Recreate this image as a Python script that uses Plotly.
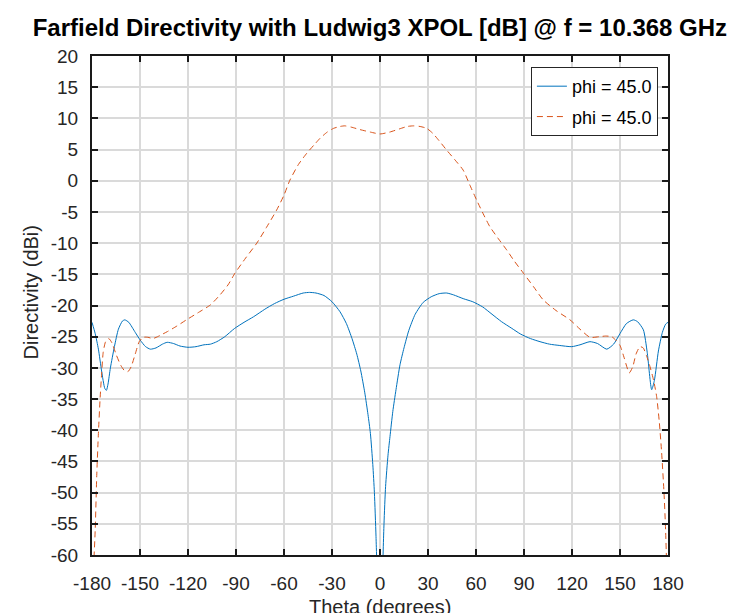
import plotly.graph_objects as go

# ---- data ----
theta_a = [-180, -178, -176, -174, -172, -171, -170, -168.5, -166, -163.5, -161, -159.5, -157,
           -153, -150, -146.5, -143.5, -140, -136, -133, -129, -125, -120, -115, -110, -106,
           -102, -97, -91, -85, -79, -72, -66, -60, -54, -48, -44, -40, -35, -30, -25, -21,
           -17.5, -14.5, -12, -9.5, -7.5, -6, -4.5, -3.5, -2.5, -1.5, -0.5,
           0.5, 1.5, 2.5, 3.5, 5, 6.25, 8, 10, 12.5, 15, 18, 22, 27, 32, 37, 41.7, 46, 52,
           58, 64, 70, 76, 82, 88, 94, 100, 106, 112, 119.8, 125, 131.25, 136, 141.7, 146,
           150, 154, 158.3, 161, 164.6, 167, 169.8, 171.5, 174, 176.5, 178.5, 180]
dir_a = [-22.7, -24.5, -27.0, -30.5, -33.3, -33.6, -32.6, -30.0, -26.6, -23.8, -22.5, -22.3, -22.7,
         -24.3, -25.5, -26.6, -27.0, -26.8, -26.2, -25.9, -26.1, -26.5, -26.7, -26.6, -26.3, -26.2,
         -25.8, -25.0, -23.7, -22.7, -21.8, -20.6, -19.7, -19.0, -18.5, -18.0, -17.9, -18.0, -18.4,
         -19.4, -21.0, -22.9, -25.3, -27.8, -30.5, -34.0, -37.5, -40.5, -45.5, -50.0, -57.0, -66.0, -80.0,
         -78.0, -64.0, -55.0, -49.0, -44.0, -41.0, -37.0, -33.5, -29.5, -26.8, -24.0, -21.4, -19.5,
         -18.6, -18.1, -18.0, -18.3, -18.9, -19.4, -20.2, -21.4, -22.6, -23.6, -24.6, -25.3, -25.8,
         -26.2, -26.4, -26.6, -26.3, -25.8, -26.1, -27.0, -26.2, -24.5, -22.9, -22.3, -22.6, -23.9,
         -27.5, -33.5, -32.0, -27.3, -24.3, -23.0, -22.7]

theta_b = [-180, -179, -178, -177, -176, -175, -174, -173, -171.5, -169.5, -167.5, -165, -162,
           -159.5, -157.5, -155.5, -153, -150.5, -148, -145, -142, -139, -136, -133, -127, -121,
           -114, -106, -100, -95, -90.6, -84, -77, -71, -64.6, -60, -56.3, -51, -45.8, -41,
           -37.5, -33, -29, -25, -22, -18, -12.5, -6, 0,
           6, 12, 17, 21, 25, 29.2, 33, 37, 41.7, 47, 52, 56, 60.4, 64.5, 68.75, 74, 79.2, 84,
           89.6, 96, 102, 110, 118.75, 125, 131.25, 137, 141, 144.8, 147.5, 150, 152.5, 155.8,
           158, 160, 162.5, 164.5, 166.5, 168.75, 171, 172.9, 174.5, 176, 177.5, 178.5, 180]
dir_b = [-70.0, -62.0, -56.0, -47.0, -40.5, -35.2, -31.0, -27.5, -25.8, -25.3, -26.0, -27.8, -29.6,
         -30.5, -30.6, -29.8, -27.8, -25.8, -25.1, -25.1, -25.3, -25.0, -24.6, -24.2, -23.3, -22.3,
         -21.2, -19.9, -18.3, -16.7, -14.8, -12.4, -10.0, -7.5, -4.7, -2.3, 0.1, 2.6, 4.4, 5.8,
         6.8, 7.8, 8.4, 8.7, 8.8, 8.6, 8.2, 7.8, 7.5,
         7.8, 8.3, 8.7, 8.8, 8.7, 8.4, 7.6, 6.4, 4.9, 3.3, 1.7, -0.6, -3.1, -5.3, -7.4, -9.3,
         -11.1, -12.9, -14.8, -17.0, -19.1, -20.8, -22.3, -23.8, -25.1, -25.0, -24.9, -25.0, -25.6,
         -26.4, -28.3, -30.8, -29.8, -27.8, -26.6, -26.8, -28.0, -29.8, -32.0, -34.6, -38.5,
         -43.5, -50.0, -56.0, -70.0]

series_names = ["phi = 45.0", "phi = 45.0"]
x_ticks = list(range(-180, 181, 30))
y_ticks = list(range(-60, 21, 5))

FONT = "Liberation Sans, Arial, sans-serif"

fig = go.Figure()
fig.add_trace(go.Scatter(x=theta_a, y=dir_a, mode="lines", name=series_names[0],
                         legendgroup="a",
                         line=dict(color="#0072BD", width=1, shape="spline", smoothing=0.6)))
fig.add_trace(go.Scatter(x=theta_b, y=dir_b, mode="lines", name=series_names[1],
                         legendgroup="b",
                         line=dict(color="#D95319", width=1, dash="6px,4px",
                                   shape="spline", smoothing=0.6)))

axis_common = dict(showline=True, linecolor="#1a1a1a", linewidth=2, mirror="ticks",
                   ticks="inside", ticklen=6, tickwidth=2, tickcolor="#1a1a1a",
                   showgrid=True, gridcolor="#dadada", gridwidth=1.5, zeroline=False,
                   tickfont=dict(family=FONT, size=19, color="#262626"))

fig.update_xaxes(range=[-180, 180], tickvals=x_ticks, ticktext=[str(v) for v in x_ticks],
                 ticklabelstandoff=10, **axis_common)
fig.update_yaxes(range=[-60, 20], tickvals=y_ticks, ticktext=[str(v) for v in y_ticks],
                 ticklabelstandoff=8, **axis_common)

fig.update_layout(
    width=742, height=613,
    margin=dict(l=92, r=74, t=56, b=58, autoexpand=False),
    paper_bgcolor="white", plot_bgcolor="white",
    title=dict(text="Farfield Directivity with Ludwig3 XPOL [dB] @ f = 10.368 GHz",
               x=0.512, xanchor="center", xref="container",
               y=1 - 28 / 613, yanchor="middle", yref="container",
               font=dict(family=FONT, size=24, color="black", weight="bold")),
    legend=dict(x=0.762, y=0.978, xanchor="left", yanchor="top",
                bgcolor="white", bordercolor="#262626", borderwidth=1,
                font=dict(family=FONT, size=18, color="black"),
                itemwidth=30, tracegroupgap=4),
    showlegend=True,
    annotations=[
        dict(text="Directivity (dBi)", xref="paper", yref="paper", x=0, y=0.5,
             xanchor="center", yanchor="middle", xshift=-62, yshift=13, textangle=-90,
             showarrow=False,
             font=dict(family=FONT, size=20, color="#262626")),
        dict(text="Theta (degrees)", xref="paper", yref="paper", x=0.5, y=0,
             xanchor="center", yanchor="top", yshift=-39, showarrow=False,
             font=dict(family=FONT, size=20, color="#262626")),
    ],
)

fig.write_html("out.html")
